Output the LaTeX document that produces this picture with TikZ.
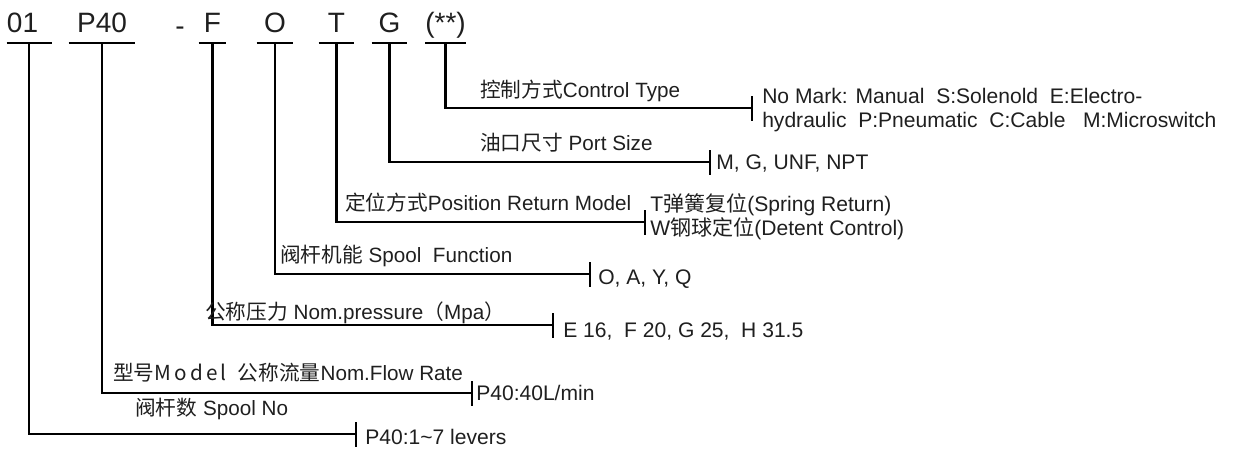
\documentclass[tikz,border=0pt]{standalone}
\usepackage{fontspec}
\setmainfont{Liberation Sans}
\newfontfamily\cjk{Noto Sans CJK SC}
\newfontfamily\cjkwide[LetterSpace=15]{Noto Sans CJK SC}
\begin{document}
\begin{tikzpicture}[x=0.75pt,y=-0.75pt,
  txt/.style={text=black!88},
  code/.style={txt,font=\fontsize{21}{24}\selectfont,inner xsep=0pt,inner ysep=7.5pt,text depth=0pt,anchor=south},
  lbl/.style={txt,font=\fontsize{15.5}{18}\selectfont,inner sep=0pt,anchor=base west},
  val/.style={txt,font=\fontsize{15.8}{18}\selectfont,inner sep=0pt,anchor=base west},
  vals/.style={txt,font=\fontsize{15.8}{18}\selectfont,inner sep=0pt,anchor=west,align=left},
  uline/.style={line width=1.5pt},
  conn/.style={line width=1.6pt},
  tickmark/.style={line width=1.1pt}]
\useasboundingbox (0,0) rectangle (1234,451);
% code row
\node[code,minimum width={45*0.75pt},text width={45*0.75pt},align=left] (c01) at (29.5,43) {01};
\node[code,minimum width={66*0.75pt}] (cP) at (102,43) {P40};
\node[code,anchor=base] (cdash) at (180,35) {-};
\node[code,minimum width={27*0.75pt}] (cF) at (212.5,43) {F};
\node[code,minimum width={36*0.75pt}] (cO) at (275,43) {O};
\node[code,minimum width={35*0.75pt}] (cT) at (336.5,43) {T};
\node[code,minimum width={35*0.75pt}] (cG) at (389.5,43) {G};
\node[code,minimum width={35*0.75pt}] (cS) at (445.5,43) {(**)};
\foreach \n in {c01,cP,cF,cO,cT,cG,cS}
  \draw[uline] (\n.south west) -- (\n.south east);
% tick end coordinates
\coordinate (kS) at (752,108);
\coordinate (kG) at (710,162);
\coordinate (kT) at (645,222);
\coordinate (kO) at (590,274);
\coordinate (kF) at (553,325);
\coordinate (kP) at (472,393);
\coordinate (k01) at (356,434);
\coordinate (s01) at ([xshift=16.5pt]c01.south west);
% connectors
\draw[conn] (s01) |- (k01);
\draw[conn] (cP.south) |- (kP);
\draw[conn] (cF.south) |- (kF);
\draw[conn] (cO.south) |- (kO);
\draw[conn] (cT.south) |- (kT);
\draw[conn] (cG.south) |- (kG);
\draw[conn] (cS.south) |- (kS);
\foreach \k in {kS,kG,kT,kO,kF,kP,k01}
  \draw[tickmark] ([yshift=9pt]\k) -- ([yshift=-9.5pt]\k);
% labels
\node[lbl] (lS) at (480,97) {{\cjk 控制方式}Control Type};
\node[lbl] (lG) at (480,150) {{\cjk 油口尺寸} Port Size};
\node[lbl] (lT) at (345,210) {{\cjk 定位方式}Position Return Model};
\node[lbl] (lO) at (280,262) {{\cjk 阀杆机能} Spool\ \ Function};
\node[lbl] (lF) at (205,319) {{\cjk 公称压力} Nom.pressure{\cjk （}Mpa{\cjk ）}};
\node[lbl] (lP) at (113,380) {{\cjk 型号}{\cjkwide Model}\ \ {\cjk 公称流量}Nom.Flow Rate};
\node[lbl] (l01) at (135,415) {{\cjk 阀杆数} Spool No};
% values
\node[vals] (vS) at (762,110) {No Mark: Manual\ \ S:Solenold\ \ E:Electro-\\hydraulic\ \ P:Pneumatic\ \ C:Cable\ \ \ M:Microswitch};
\node[val] (vG) at (716,169) {M, G, UNF, NPT};
\node[vals] (vT) at (650,217) {T{\cjk 弹簧复位}(Spring Return)\\W{\cjk 钢球定位}(Detent Control)};
\node[val] (vO) at (598,284) {O, A, Y, Q};
\node[val] (vF) at (563,337) {E 16,\ \ F 20, G 25,\ \ H 31.5};
\node[val] (vP) at (476,400) {P40:40L/min};
\node[val] (v01) at (365,444) {P40:1\textasciitilde7 levers};
\end{tikzpicture}
\end{document}
